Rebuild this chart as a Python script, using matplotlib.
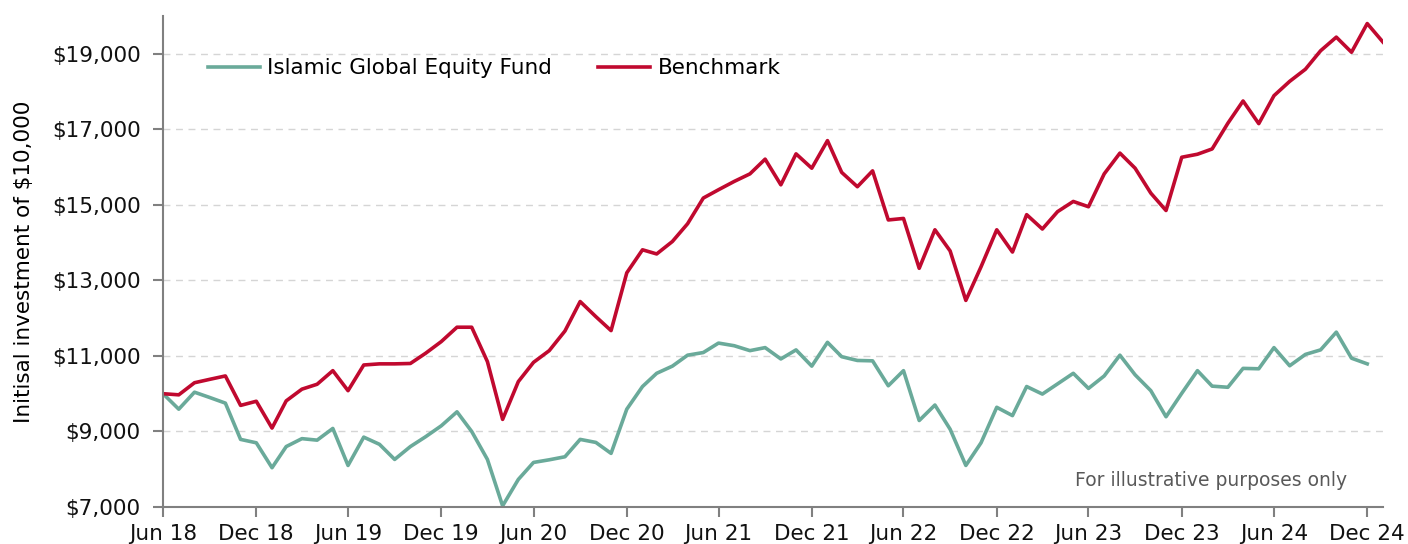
import matplotlib
matplotlib.use("Agg")
import matplotlib.pyplot as plt
import matplotlib.ticker as mticker
import pandas as pd

# monthly growth of $10,000, Jun 18 - Jan 25
fund = [10000, 9590, 10040, 9900, 9750, 8790, 8700, 8040, 8600, 8810,
        8770, 9080, 8100, 8850, 8660, 8260, 8600, 8860, 9150, 9520,
        9000, 8260, 7030, 7730, 8180, 8250, 8330, 8790, 8710, 8420,
        9590, 10190, 10540, 10730, 11020, 11090, 11340, 11270, 11140, 11220,
        10920, 11160, 10730, 11360, 10980, 10880, 10870, 10210, 10610, 9290,
        9700, 9060, 8100, 8700, 9640, 9420, 10190, 9990, 10260, 10540,
        10140, 10470, 11020, 10500, 10080, 9390, 10010, 10610, 10200, 10170,
        10670, 10660, 11220, 10740, 11040, 11160, 11630, 10940, 10790]
benchmark = [10000, 9970, 10290, 10380, 10470, 9690, 9800, 9090, 9810, 10120,
             10250, 10610, 10080, 10760, 10790, 10790, 10800, 11070, 11380, 11760,
             11760, 10850, 9320, 10320, 10830, 11140, 11660, 12440, 12040, 11670,
             13200, 13810, 13700, 14030, 14500, 15180, 15400, 15620, 15820, 16210,
             15530, 16350, 15970, 16700, 15860, 15480, 15900, 14600, 14640, 13320,
             14340, 13780, 12470, 13360, 14340, 13750, 14740, 14360, 14820, 15090,
             14950, 15820, 16370, 15970, 15310, 14850, 16260, 16340, 16480, 17160,
             17750, 17150, 17890, 18270, 18590, 19080, 19440, 19040, 19800, 19310]
months = pd.date_range("2018-06-30", periods=len(benchmark), freq="ME")
y_ticks = [7000, 9000, 11000, 13000, 15000, 17000, 19000]

GREEN = "#6aaa9a"
RED = "#c0092f"
GREY = "#808080"

plt.rcParams['font.family'] = ['DejaVu Sans']
fig = plt.figure(figsize=(14.08, 5.44), dpi=100)
ax = fig.add_axes([0.1158, 0.068, 0.8664, 0.9026])

ax.plot(months[:len(fund)], fund, color=GREEN, lw=2.6, label="Islamic Global Equity Fund")
ax.plot(months, benchmark, color=RED, lw=2.6, label="Benchmark")

ax.set_xlim(months[0], months[-1])
ax.set_ylim(7000, 20000)
ax.set_yticks(y_ticks)
ax.yaxis.set_major_formatter(mticker.FuncFormatter(lambda v, p: "${:,.0f}".format(v)))
ax.set_xticks(months[::6])
ax.set_xticklabels([d.strftime("%b %y") for d in months[::6]])

ax.grid(axis='y', color="#d5d5d5", linestyle=(0, (5, 4)), lw=1)
ax.set_axisbelow(True)
for s in ['top', 'right']:
    ax.spines[s].set_visible(False)
for s in ['left', 'bottom']:
    ax.spines[s].set_color(GREY)
    ax.spines[s].set_linewidth(1.5)
ax.tick_params(axis='both', colors=GREY, length=7, width=1.5, labelcolor="#111111", labelsize=15.5)
ax.tick_params(axis='y', pad=9)
ax.tick_params(axis='x', pad=5)

ax.set_ylabel("Initisal investment of $10,000", fontsize=15.5)
ax.yaxis.set_label_coords(-0.106, 0.5)

ax.text(0.9705, 0.055, "For illustrative purposes only", transform=ax.transAxes,
        ha='right', va='center', fontsize=13.5, color="#595959")

ax.legend(loc='center left', ncol=2, frameon=False, fontsize=15.5,
          bbox_to_anchor=(0.0369, 0.894), borderaxespad=0, borderpad=0,
          handlelength=2.4, handletextpad=0.35, columnspacing=2.15)

fig.savefig("out.png", dpi=100)
